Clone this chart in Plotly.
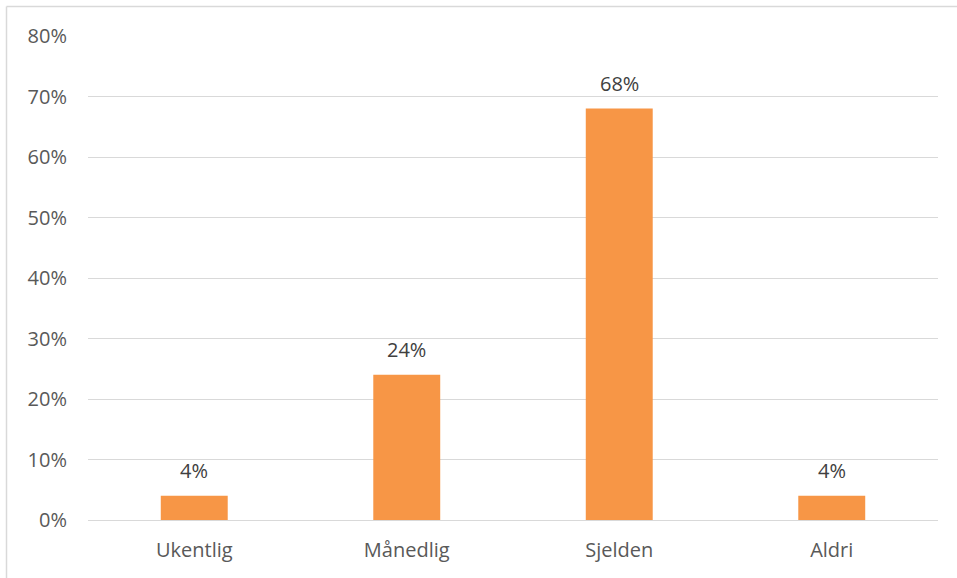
import plotly.graph_objects as go

categories = ["Ukentlig", "Månedlig", "Sjelden", "Aldri"]
values = [0.04, 0.24, 0.68, 0.04]
labels = ["4%", "24%", "68%", "4%"]
y_ticks = [0, 0.1, 0.2, 0.3, 0.4, 0.5, 0.6, 0.7, 0.8]
y_tick_labels = ["0%", "10%", "20%", "30%", "40%", "50%", "60%", "70%", "80%"]

W, H = 957, 578
L, R, T, B = 88, 19, 36, 58
pw, ph = W - L - R, H - T - B
FONT = "Open Sans"

fig = go.Figure(go.Bar(
    x=categories, y=values,
    marker=dict(color="#F79646", line=dict(width=0)),
    hoverinfo="x+y",
))

for c, v, t in zip(categories, values, labels):
    fig.add_annotation(x=c, y=v, text=t, showarrow=False,
                       xref="x", yref="y", yanchor="bottom", yshift=10,
                       font=dict(family=FONT, size=20, color="#404040"))

def px_x(p):
    return (p - L) / pw

def px_y(p):
    return (H - B - p) / ph

fig.update_layout(
    width=W, height=H,
    margin=dict(l=L, r=R, t=T, b=B, pad=0),
    paper_bgcolor="white", plot_bgcolor="white",
    bargap=0.685,
    showlegend=False,
    font=dict(family=FONT, color="#595959", size=20),
    xaxis=dict(showgrid=False, showline=False, zeroline=False,
               ticks="", ticklabelstandoff=16,
               tickfont=dict(family=FONT, size=20, color="#595959")),
    yaxis=dict(range=[0, 0.8], tickvals=y_ticks, ticktext=y_tick_labels,
               showgrid=True, gridcolor="#D9D9D9", gridwidth=1.3,
               zeroline=True, zerolinecolor="#D9D9D9", zerolinewidth=1.3,
               showline=False, ticks="", ticklabelstandoff=20,
               tickfont=dict(family=FONT, size=20, color="#595959")),
    shapes=[
        dict(type="line", xref="paper", yref="paper",
             x0=px_x(6.5), x1=px_x(W + 5), y0=px_y(6.5), y1=px_y(6.5),
             line=dict(color="#D9D9D9", width=1.5)),
        dict(type="line", xref="paper", yref="paper",
             x0=px_x(6.5), x1=px_x(6.5), y0=px_y(6.5), y1=px_y(H + 5),
             line=dict(color="#D9D9D9", width=1.5)),
    ],
)

fig.write_html("out.html",
               config={"displayModeBar": False},
               post_script="document.body.style.margin='0';document.body.style.overflow='hidden';")
